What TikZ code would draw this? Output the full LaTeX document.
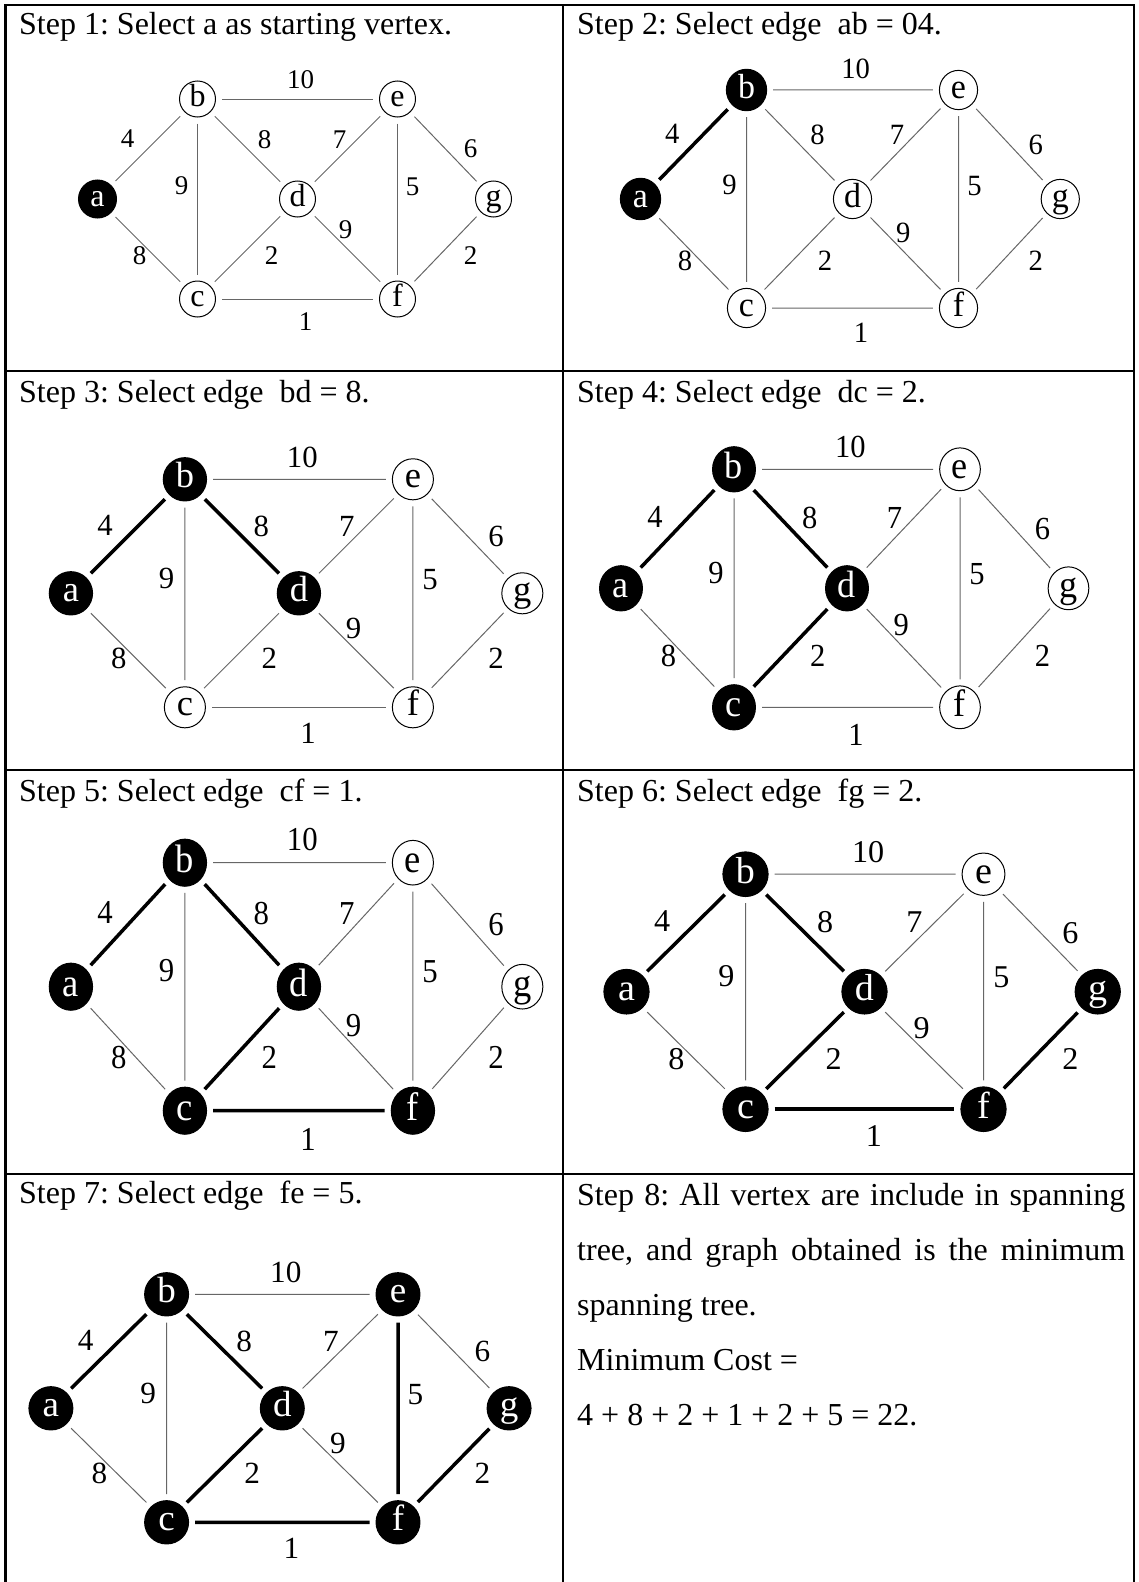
\documentclass[tikz,border=0pt]{standalone}
\usepackage{fontspec}
\setmainfont{Liberation Serif}
\frenchspacing

\tikzset{
    vertex/.style={circle, draw=black, line width=1pt, fill=white, minimum size=36pt, inner sep=0pt, font=\fontsize{32}{32}\selectfont, text height=19pt, text depth=4pt},
    intree/.style={fill=black, text=white, minimum size=38pt},
    edge/.style={draw=black!60, line width=1pt, shorten <=6pt, shorten >=6pt},
    treeedge/.style={draw=black, line width=3.5pt},
    weight/.style={inner sep=0pt, font=\fontsize{27}{27}\selectfont},
    title/.style={anchor=base west, inner sep=0pt, font=\fontsize{32}{38}\selectfont},
    rule/.style={line width=2.5pt, black},
    va/.style={}, vb/.style={}, vc/.style={}, vd/.style={}, ve/.style={}, vf/.style={}, vg/.style={},
    eab/.style={}, eac/.style={}, ebc/.style={}, ebd/.style={}, ebe/.style={}, ecd/.style={},
    ecf/.style={}, ede/.style={}, edf/.style={}, eef/.style={}, eeg/.style={}, efg/.style={}
}

\newcommand{\primgraph}[1]{%
    \foreach \v/\x/\y in {a/0/0, b/100/-100, c/100/100, d/200/0, e/300/-100, f/300/100, g/396/0}
        {\node[vertex, v\v] (#1\v) at (\x,\y) {\v};}
    \foreach \u/\w in {a/b, a/c, b/c, b/d, b/e, c/d, c/f, d/e, d/f, e/f, e/g, f/g}
        {\draw[edge, e\u\w] (#1\u) -- (#1\w);}
    \foreach \wt/\x/\y [count=\i] in {4/30/-60, 8/42/57, 9/84/-13, 8/167/-59, 10/203/-119, 2/174/57,
            1/208/123, 7/242/-59, 9/248/31, 5/315/-12, 6/373/-50, 2/373/57}
        {\node[weight] (#1w\i) at (\x,\y) {\wt};}
}

\begin{document}
\begin{tikzpicture}[x=1pt, y=-1pt]
    \useasboundingbox (0,0) rectangle (1139,1582);

    \draw[rule] (5.5,1582) |- (1134,5) -- (1134,1582);
    \draw[rule] (563,5) -- (563,1582);
    \foreach \yy in {371, 770, 1174}
        \draw[rule] (5.5,\yy) -- (1134,\yy);

    \node[title] (t1) at (19,34) {Step 1: Select a as starting vertex.};
    \node[title] (t2) at (577,34) {Step 2: Select edge~ ab = 04.};
    \node[title] (t3) at (19,402) {Step 3: Select edge~ bd = 8.};
    \node[title] (t4) at (577,402) {Step 4: Select edge~ dc = 2.};
    \node[title] (t5) at (19,801) {Step 5: Select edge~ cf = 1.};
    \node[title] (t6) at (577,801) {Step 6: Select edge~ fg = 2.};
    \node[title] (t7) at (19,1203) {Step 7: Select edge~ fe = 5.};
    \node[anchor=north west, inner sep=0pt, text width=548pt, align=justify,
        font=\fontsize{32}{55}\selectfont] (t8) at (577,1183)
        {Step 8: All vertex are include in spanning\linebreak
        tree, and graph obtained is the minimum\linebreak
        spanning tree.\\
        Minimum Cost =\\
        4 + 8 + 2 + 1 + 2 + 5 = 22.};

    \begin{scope}[shift={(97.5,199)}, transform shape, va/.style=intree]
        \primgraph{p1}
    \end{scope}
    \begin{scope}[shift={(640.5,199)}, xscale=1.06, yscale=1.09, transform shape,
            va/.style=intree, vb/.style=intree, eab/.style=treeedge]
        \primgraph{p2}
    \end{scope}
    \begin{scope}[shift={(70.9,593.3)}, scale=1.14, transform shape,
            va/.style=intree, vb/.style=intree, vd/.style=intree,
            eab/.style=treeedge, ebd/.style=treeedge]
        \primgraph{p3}
    \end{scope}
    \begin{scope}[shift={(621,588.3)}, xscale=1.13, yscale=1.19, transform shape,
            va/.style=intree, vb/.style=intree, vc/.style=intree, vd/.style=intree,
            eab/.style=treeedge, ebd/.style=treeedge, ecd/.style=treeedge]
        \primgraph{p4}
    \end{scope}
    \begin{scope}[shift={(70.9,986.7)}, xscale=1.14, yscale=1.24, transform shape,
            va/.style=intree, vb/.style=intree, vc/.style=intree, vd/.style=intree, vf/.style=intree,
            eab/.style=treeedge, ebd/.style=treeedge, ecd/.style=treeedge, ecf/.style=treeedge]
        \primgraph{p5}
    \end{scope}
    \begin{scope}[shift={(626.5,991.7)}, xscale=1.19, yscale=1.175, transform shape,
            va/.style=intree, vb/.style=intree, vc/.style=intree, vd/.style=intree, vf/.style=intree,
            vg/.style=intree,
            eab/.style=treeedge, ebd/.style=treeedge, ecd/.style=treeedge, ecf/.style=treeedge,
            efg/.style=treeedge]
        \primgraph{p6}
    \end{scope}
    \begin{scope}[shift={(50.9,1408.3)}, xscale=1.157, yscale=1.14, transform shape,
            va/.style=intree, vb/.style=intree, vc/.style=intree, vd/.style=intree, ve/.style=intree,
            vf/.style=intree, vg/.style=intree,
            eab/.style=treeedge, ebd/.style=treeedge, ecd/.style=treeedge, ecf/.style=treeedge,
            efg/.style=treeedge, eef/.style=treeedge]
        \primgraph{p7}
    \end{scope}
\end{tikzpicture}
\end{document}
